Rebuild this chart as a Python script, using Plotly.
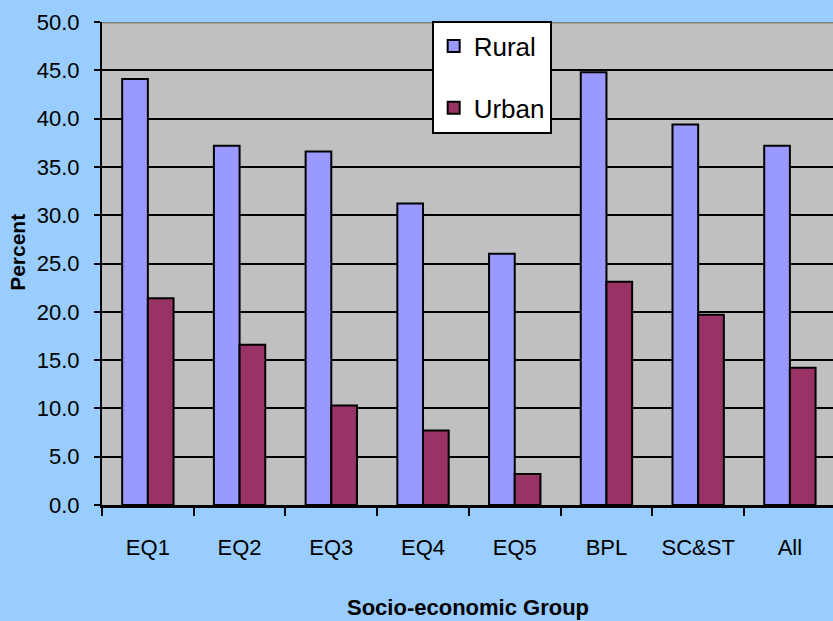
import plotly.graph_objects as go

# Socio-economic groups and percentage values for each area type
groups = ["EQ1", "EQ2", "EQ3", "EQ4", "EQ5", "BPL", "SC&ST", "All"]
rural = [44.1, 37.2, 36.6, 31.2, 26.0, 44.8, 39.4, 37.2]
urban = [21.4, 16.6, 10.3, 7.7, 3.2, 23.1, 19.7, 14.2]
y_ticks = [0, 5, 10, 15, 20, 25, 30, 35, 40, 45, 50]

FONT = "Liberation Sans Narrow, Arial Narrow, Liberation Sans, Arial, sans-serif"

fig = go.Figure()
fig.add_trace(go.Bar(
    x=groups, y=rural, name="Rural", legendgroup="rural",
    marker=dict(color="#9999FF", line=dict(color="black", width=2)),
))
fig.add_trace(go.Bar(
    x=groups, y=urban, name="Urban", legendgroup="urban",
    marker=dict(color="#993366", line=dict(color="black", width=2)),
))

fig.update_layout(
    width=833, height=621,
    margin=dict(l=102, r=0, t=22, b=116),
    paper_bgcolor="#99CCFF",
    plot_bgcolor="#C0C0C0",
    barmode="group",
    bargap=0.44,
    bargroupgap=0,
    font=dict(family=FONT, size=22, color="black"),
    legend=dict(
        x=0.451, y=1.003, xanchor="left", yanchor="top",
        bgcolor="white", bordercolor="black", borderwidth=2,
        font=dict(family=FONT, size=26, color="black"),
        tracegroupgap=25,
        traceorder="grouped",
        itemwidth=30,
    ),
    showlegend=True,
)

fig.update_xaxes(
    type="category",
    range=[-0.5, 7.47],
    showgrid=False,
    showline=True, linecolor="black", linewidth=3,
    ticks="outside", tickson="boundaries", ticklen=8, tickwidth=2, tickcolor="black",
    tickangle=0,
    ticklabelstandoff=21,
    tickfont=dict(family=FONT, size=22, color="black"),
)
fig.update_yaxes(
    range=[0, 50],
    tickvals=y_ticks,
    tickformat=".1f",
    showgrid=True, gridcolor="black", gridwidth=2,
    showline=True, linecolor="black", linewidth=2,
    ticks="outside", ticklen=6, tickwidth=2, tickcolor="black",
    ticklabelstandoff=10,
    zeroline=False,
    tickfont=dict(family=FONT, size=22, color="black"),
)

# Grey border along the top of the plotting area
fig.add_shape(type="line", xref="paper", yref="y", x0=0, x1=1, y0=50, y1=50,
              line=dict(color="#808080", width=3), layer="above")

# Axis titles
fig.add_annotation(text="<b>Socio-economic Group</b>", xref="paper", yref="paper",
                   x=0.5, y=0, yshift=-102, xanchor="center", yanchor="middle",
                   showarrow=False, font=dict(family=FONT, size=22, color="black"))
fig.add_annotation(text="<b>Percent</b>", xref="paper", yref="paper",
                   x=0, y=0.522, xshift=-84, xanchor="center", yanchor="middle",
                   textangle=-90, showarrow=False,
                   font=dict(family=FONT, size=21, color="black"))

fig.write_html("out.html")
